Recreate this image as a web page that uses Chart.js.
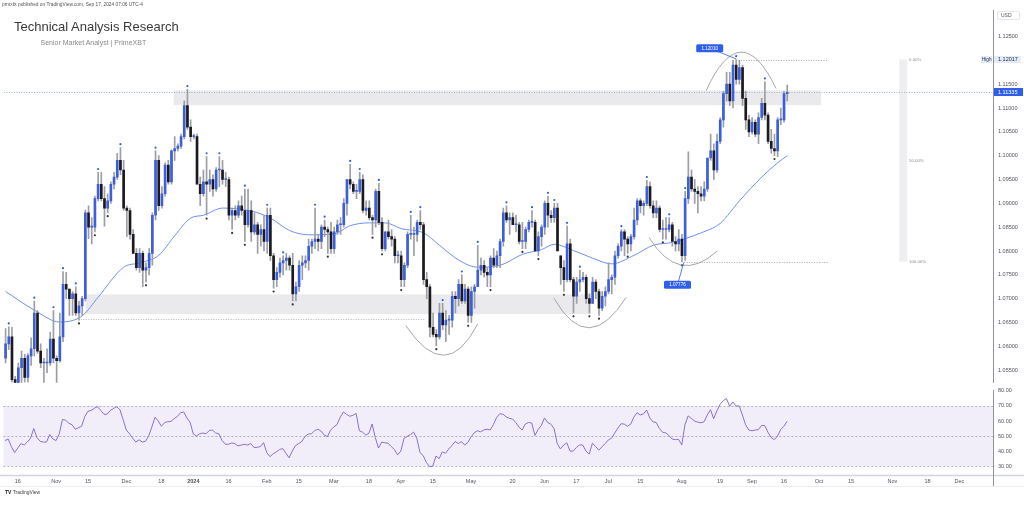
<!DOCTYPE html>
<html><head><meta charset="utf-8">
<script src="https://cdn.jsdelivr.net/npm/chart.js@4.4.1/dist/chart.umd.min.js"></script>
<style>
html,body{margin:0;padding:0;background:#fff;width:1024px;height:506px;overflow:hidden;font-family:"Liberation Sans",Arial,sans-serif}
#wrap{position:relative;width:1024px;height:506px}
canvas{position:absolute;left:0}
#c1{top:0}
#c2{top:380px}
.t{position:absolute;white-space:nowrap;line-height:1}
</style></head><body>
<div id="wrap">
<canvas id="c1" width="1024" height="391"></canvas>
<canvas id="c2" width="1024" height="126"></canvas>
<div class="t" style="left:2px;top:3px;font-size:4.8px;color:#555">prmxbt published on TradingView.com, Sep 17, 2024 07:06 UTC-4</div>
<div class="t" style="left:14px;top:19.7px;font-size:13px;color:#3a3a3a">Technical Analysis Research</div>
<div class="t" style="left:40.5px;top:39.4px;font-size:7px;color:#8a8a8a">Senior Market Analyst | PrimeXBT</div>
<div class="t" style="left:5px;top:490px;font-size:5px;color:#222"><b>TV</b> <span style="color:#444">TradingView</span></div>
</div>
<script>
// ---------- DATA ----------
const firstDate = '2023-10-10';
const slotCount = 310; // weekday slots shown on the time axis (incl. empty future)
const open  = [1.0575,1.0605,1.0620,1.0530,1.0515,1.0555,1.0575,1.0535,1.0580,1.0595,1.0670,1.0590,1.0565,1.0565,1.0565,1.0615,1.0575,1.0570,1.0620,1.0730,1.0720,1.0700,1.0710,1.0670,1.0685,1.0700,1.0880,1.0850,1.0850,1.0910,1.0940,1.0910,1.0890,1.0905,1.0940,1.0955,1.0990,1.0970,1.0890,1.0885,1.0835,1.0795,1.0765,1.0795,1.0760,1.0765,1.0795,1.0875,1.0990,1.0895,1.0920,1.0980,1.0945,1.1010,1.1015,1.1020,1.1040,1.1105,1.1060,1.1040,1.1040,1.0940,1.0920,1.0945,1.0940,1.0950,1.0930,1.0970,1.0970,1.0950,1.0950,1.0875,1.0885,1.0875,1.0895,1.0885,1.0855,1.0885,1.0840,1.0855,1.0835,1.0845,1.0820,1.0875,1.0790,1.0740,1.0755,1.0775,1.0780,1.0785,1.0770,1.0710,1.0725,1.0770,1.0775,1.0780,1.0810,1.0820,1.0825,1.0820,1.0850,1.0845,1.0840,1.0805,1.0840,1.0855,1.0855,1.0900,1.0950,1.0940,1.0925,1.0925,1.0950,1.0885,1.0890,1.0870,1.0865,1.0925,1.0860,1.0805,1.0840,1.0830,1.0825,1.0790,1.0790,1.0740,1.0770,1.0835,1.0835,1.0835,1.0860,1.0855,1.0740,1.0725,1.0640,1.0625,1.0620,1.0670,1.0645,1.0655,1.0655,1.0705,1.0700,1.0730,1.0695,1.0720,1.0665,1.0715,1.0725,1.0760,1.0770,1.0755,1.0750,1.0785,1.0770,1.0790,1.0820,1.0880,1.0865,1.0870,1.0855,1.0855,1.0820,1.0820,1.0845,1.0860,1.0860,1.0800,1.0830,1.0850,1.0900,1.0875,1.0870,1.0890,1.0790,1.0765,1.0740,1.0815,1.0740,1.0705,1.0735,1.0740,1.0745,1.0700,1.0690,1.0735,1.0715,1.0680,1.0705,1.0715,1.0740,1.0745,1.0790,1.0810,1.0840,1.0825,1.0815,1.0830,1.0865,1.0905,1.0895,1.0900,1.0935,1.0895,1.0880,1.0890,1.0845,1.0845,1.0845,1.0855,1.0820,1.0815,1.0825,1.0790,1.0910,1.0955,1.0930,1.0925,1.0920,1.0915,1.0930,1.0995,1.1010,1.0970,1.1030,1.1075,1.1130,1.1150,1.1115,1.1190,1.1160,1.1185,1.1120,1.1075,1.1050,1.1070,1.1045,1.1080,1.1110,1.1085,1.1030,1.1015,1.1010,1.1075,1.1075,1.1130];
const high  = [1.0637,1.0641,1.0640,1.0537,1.0565,1.0590,1.0583,1.0585,1.0618,1.0695,1.0675,1.0605,1.0575,1.0595,1.0630,1.0675,1.0580,1.0670,1.0757,1.0755,1.0720,1.0715,1.0725,1.0695,1.0705,1.0886,1.0895,1.0870,1.0915,1.0965,1.0965,1.0935,1.0920,1.0945,1.0965,1.1005,1.1017,1.0990,1.0895,1.0890,1.0845,1.0805,1.0805,1.0800,1.0775,1.0805,1.0880,1.1010,1.1000,1.0935,1.0985,1.0990,1.1012,1.1040,1.1025,1.1045,1.1115,1.1139,1.1075,1.1045,1.1045,1.0955,1.0970,1.0998,1.0970,1.0960,1.0975,1.0998,1.0990,1.0965,1.0955,1.0890,1.0895,1.0905,1.0915,1.0930,1.0930,1.0905,1.0880,1.0860,1.0855,1.0875,1.0890,1.0890,1.0795,1.0765,1.0785,1.0790,1.0795,1.0790,1.0795,1.0735,1.0780,1.0790,1.0790,1.0825,1.0825,1.0890,1.0835,1.0855,1.0865,1.0850,1.0860,1.0850,1.0865,1.0870,1.0910,1.0950,1.0982,1.0945,1.0940,1.0965,1.0960,1.0905,1.0905,1.0875,1.0930,1.0942,1.0870,1.0840,1.0865,1.0845,1.0830,1.0800,1.0800,1.0775,1.0840,1.0875,1.0850,1.0865,1.0885,1.0860,1.0755,1.0730,1.0670,1.0635,1.0690,1.0690,1.0675,1.0665,1.0715,1.0715,1.0740,1.0750,1.0730,1.0725,1.0725,1.0730,1.0812,1.0785,1.0780,1.0765,1.0790,1.0805,1.0800,1.0825,1.0890,1.0895,1.0880,1.0880,1.0875,1.0860,1.0860,1.0850,1.0865,1.0885,1.0865,1.0840,1.0855,1.0905,1.0915,1.0885,1.0900,1.0900,1.0790,1.0780,1.0852,1.0825,1.0745,1.0745,1.0760,1.0755,1.0750,1.0710,1.0745,1.0740,1.0720,1.0715,1.0725,1.0775,1.0750,1.0800,1.0815,1.0845,1.0845,1.0830,1.0835,1.0890,1.0910,1.0910,1.0905,1.0948,1.0945,1.0905,1.0905,1.0895,1.0865,1.0870,1.0870,1.0860,1.0830,1.0845,1.0835,1.0925,1.1008,1.0970,1.0950,1.0935,1.0935,1.0945,1.0995,1.1045,1.1025,1.1045,1.1080,1.1135,1.1175,1.1175,1.1200,1.12017,1.1200,1.1190,1.1135,1.1085,1.1080,1.1075,1.1090,1.1120,1.1155,1.1090,1.1055,1.1045,1.1080,1.1100,1.1135,1.1148];
const low   = [1.0565,1.0593,1.0525,1.0495,1.0505,1.0522,1.0525,1.0525,1.0560,1.0580,1.0585,1.0555,1.0520,1.0545,1.0560,1.0565,1.0517,1.0567,1.0610,1.0700,1.0665,1.0665,1.0665,1.0655,1.0665,1.0695,1.0826,1.0815,1.0840,1.0905,1.0905,1.0852,1.0880,1.0900,1.0930,1.0950,1.0960,1.0885,1.0830,1.0825,1.0795,1.0760,1.0755,1.0725,1.0735,1.0750,1.0770,1.0865,1.0885,1.0890,1.0915,1.0940,1.0940,1.0990,1.1010,1.1015,1.1035,1.1055,1.1030,1.1035,1.0940,1.0895,1.0915,1.0875,1.0925,1.0915,1.0925,1.0935,1.0940,1.0935,1.0865,1.0845,1.0865,1.0870,1.0875,1.0820,1.0850,1.0820,1.0835,1.0795,1.0810,1.0800,1.0795,1.0780,1.0722,1.0725,1.0745,1.0750,1.0760,1.0760,1.0695,1.0695,1.0715,1.0740,1.0765,1.0760,1.0795,1.0805,1.0800,1.0805,1.0830,1.0795,1.0795,1.0795,1.0835,1.0835,1.0850,1.0875,1.0930,1.0920,1.0910,1.0920,1.0880,1.0875,1.0865,1.0835,1.0850,1.0855,1.0800,1.0800,1.0825,1.0810,1.0775,1.0775,1.0725,1.0725,1.0765,1.0825,1.0790,1.0820,1.0845,1.0730,1.0700,1.0620,1.0620,1.0601,1.0615,1.0635,1.0610,1.0625,1.0640,1.0670,1.0685,1.0690,1.0690,1.0650,1.0650,1.0680,1.0725,1.0750,1.0745,1.0725,1.0725,1.0765,1.0765,1.0765,1.0810,1.0860,1.0835,1.0855,1.0840,1.0815,1.0805,1.0805,1.0840,1.0850,1.0800,1.0790,1.0810,1.0835,1.0850,1.0860,1.0860,1.0800,1.0730,1.0715,1.0735,1.0735,1.0670,1.0690,1.0715,1.0735,1.0690,1.0670,1.0690,1.0700,1.0665,1.0675,1.0685,1.0710,1.0710,1.0730,1.0785,1.0800,1.0790,1.0795,1.0800,1.0825,1.0855,1.0880,1.0875,1.0895,1.0890,1.0870,1.0870,1.0840,1.0825,1.0825,1.0840,1.0810,1.0800,1.0800,1.0777,1.0780,1.0900,1.0925,1.0900,1.0880,1.0905,1.0905,1.0925,1.0990,1.0950,1.0965,1.1025,1.1060,1.1115,1.1105,1.1100,1.1150,1.1150,1.1105,1.1055,1.1040,1.1045,1.1040,1.1025,1.1075,1.1075,1.1025,1.1005,1.1000,1.0998,1.1065,1.1070,1.1115];
const close = [1.0605,1.0620,1.0530,1.0510,1.0555,1.0575,1.0535,1.0580,1.0595,1.0670,1.0590,1.0565,1.0565,1.0565,1.0615,1.0575,1.0570,1.0620,1.0730,1.0720,1.0700,1.0710,1.0670,1.0685,1.0700,1.0880,1.0850,1.0850,1.0910,1.0940,1.0910,1.0890,1.0905,1.0940,1.0955,1.0990,1.0970,1.0890,1.0885,1.0835,1.0795,1.0765,1.0795,1.0760,1.0765,1.0795,1.0875,1.0990,1.0895,1.0920,1.0980,1.0945,1.1010,1.1015,1.1020,1.1040,1.1105,1.1060,1.1040,1.1040,1.0940,1.0920,1.0945,1.0940,1.0950,1.0930,1.0970,1.0970,1.0950,1.0950,1.0875,1.0885,1.0875,1.0895,1.0885,1.0855,1.0885,1.0840,1.0855,1.0835,1.0845,1.0820,1.0875,1.0790,1.0740,1.0755,1.0775,1.0780,1.0785,1.0770,1.0710,1.0725,1.0770,1.0775,1.0780,1.0810,1.0820,1.0825,1.0820,1.0850,1.0845,1.0840,1.0805,1.0840,1.0855,1.0855,1.0900,1.0950,1.0940,1.0925,1.0925,1.0950,1.0885,1.0890,1.0870,1.0865,1.0925,1.0860,1.0805,1.0840,1.0830,1.0825,1.0790,1.0790,1.0740,1.0770,1.0835,1.0835,1.0835,1.0860,1.0855,1.0740,1.0725,1.0640,1.0625,1.0620,1.0670,1.0645,1.0655,1.0655,1.0705,1.0700,1.0730,1.0695,1.0720,1.0665,1.0715,1.0725,1.0760,1.0770,1.0755,1.0750,1.0785,1.0770,1.0790,1.0820,1.0880,1.0865,1.0870,1.0855,1.0855,1.0820,1.0820,1.0845,1.0860,1.0860,1.0800,1.0830,1.0850,1.0900,1.0875,1.0870,1.0890,1.0800,1.0765,1.0740,1.0815,1.0740,1.0705,1.0735,1.0740,1.0745,1.0700,1.0690,1.0735,1.0715,1.0680,1.0705,1.0715,1.0740,1.0745,1.0790,1.0810,1.0840,1.0825,1.0815,1.0830,1.0865,1.0905,1.0895,1.0900,1.0935,1.0895,1.0880,1.0890,1.0845,1.0845,1.0845,1.0855,1.0820,1.0815,1.0825,1.0790,1.0910,1.0955,1.0930,1.0925,1.0920,1.0915,1.0930,1.0995,1.1010,1.0970,1.1030,1.1075,1.1130,1.1150,1.1115,1.1190,1.1160,1.1185,1.1120,1.1075,1.1050,1.1070,1.1045,1.1080,1.1110,1.1085,1.1030,1.1015,1.1010,1.1075,1.1075,1.1130,1.1133];
// 50-period moving average, read at sample bars: [bar index, value]
const maPoints = [[0,1.0715],[9,1.0676],[17,1.0651],[24,1.0664],[29,1.0703],[37,1.0766],[42,1.0775],[48,1.0791],[53,1.0832],[58,1.0869],[62,1.0875],[68,1.0890],[77,1.0884],[83,1.0869],[89,1.0843],[95,1.0834],[103,1.0836],[108,1.0853],[114,1.0859],[119,1.0859],[124,1.0847],[131,1.0838],[136,1.0812],[142,1.0781],[148,1.0766],[155,1.0770],[162,1.0793],[168,1.0803],[172,1.0814],[178,1.0801],[184,1.0785],[190,1.0773],[197,1.0791],[203,1.0812],[209,1.0818],[213,1.0826],[218,1.0838],[224,1.0858],[230,1.0905],[237,1.0955],[242,1.0985],[245,1.1000]];
// RSI(14)
const rsi = [47,48,43,39,42,45,44,46,48.5,55,49,46.5,46,46,51,48,47,51.5,61,60.5,58.5,57.5,54.5,55.5,56.5,63,66.5,67,68.5,69.5,67,64.5,64.5,67,68.3,69.5,67.5,61,54,51.5,48.5,46,47.5,46,46.5,50,56,62.5,60,56.5,59,59.5,59.7,61.6,63,65.5,66,62,59,51.3,50,51.5,52,51.5,53.7,54,52,51.5,47,44.6,44.5,45.4,45,43.4,44,44.5,44,45,42.4,42.5,43,45.6,39,36.3,38.2,39.5,41,41.7,38.6,35.5,40,43.7,45,46.4,49.8,51.3,51.5,53.6,54.5,53.3,50.6,49.6,54,56,57.6,62.4,66,64.4,63.1,63.8,65,53.5,52.6,50.6,51.8,58,49,42,46,45.5,45.2,43,41,37.5,40,48.5,49.8,51,52.6,48.5,39,37,32.5,29.6,30,36.7,35,39.5,38.5,41.4,43.6,46.4,45,46.3,44,45.8,49.5,52.2,53.5,52.8,54,54.5,54,57.6,62.4,64.8,64.5,62.7,61.8,61.3,59,56,54,58,59,58.7,50.4,54.3,57,62,59,57.8,55,45,41.4,44,45.5,40,40,42.4,44.1,44,40,38,45.2,43.1,40.6,42.8,45,47.4,48.5,52,55.3,58.2,57.9,56.5,57.8,62.6,65.5,64,64.7,67.3,62,59.4,59,55,52.5,52.1,50.3,48,47.6,47.8,44,57.5,63.4,61.7,60,59.2,58.8,59.5,64,67.5,61.5,66.7,71,73.5,75,69.8,72.7,70,70,64,57.5,54,53.5,54,54.2,57,57,52.5,49,47.6,50,54.3,56.5,59.8];
const fractalHighIdx = [1,9,15,18,22,29,36,47,57,63,67,75,82,87,97,100,108,111,117,127,130,137,143,148,157,165,170,172,176,180,193,201,208,213,229,238];
const fractalLowIdx  = [23,28,32,44,63,71,75,84,90,101,115,118,124,135,145,152,162,167,175,178,183,186,195,206,212,241];
const priceTicks = [1.055,1.06,1.065,1.07,1.075,1.08,1.085,1.09,1.095,1.10,1.105,1.11,1.115,1.12,1.125];
const rsiTicks = [30,40,50,60,70,80];
const tickDates = ['2023-10-16','2023-11-01','2023-11-15','2023-12-01','2023-12-18','2024-01-01','2024-01-16','2024-02-01','2024-02-15','2024-03-01','2024-03-18','2024-04-01','2024-04-15','2024-05-01','2024-05-20','2024-06-03','2024-06-17','2024-07-01','2024-07-15','2024-08-01','2024-08-19','2024-09-02','2024-09-16','2024-10-01','2024-10-15','2024-11-01','2024-11-18','2024-12-02'];
const tickTexts = ['16','Nov','15','Dec','18','2024','16','Feb','15','Mar','18','Apr','15','May','20','Jun','17','Jul','15','Aug','19','Sep','16','Oct','15','Nov','18','Dec'];
// drawing annotations in data space (bar index, price)
const zones = [{from:52.7,to:255.6,top:1.11368,bottom:1.11060},{from:25,to:183.5,top:1.07089,bottom:1.06677}];
const arcs = [
  [[125.5,1.06430],[137.4,1.05813],[148,1.06471]],
  [[171.9,1.07006],[182.9,1.06389],[194.5,1.07027]],
  [[201.7,1.08282],[211.7,1.07706],[223,1.07994]],
  [[219.6,1.11368],[230.5,1.12171],[241.5,1.11409]]
];
const lastPrice = 1.11335, highPrice = 1.12017, lowPrice = 1.07776;
const supportLine = {from:22,to:131.7,price:1.06574};
const fib = {fromHigh:230.5,fromLow:212.7,to:258,band:[280.1,282.6],labelAt:283.2,levels:[[1.12017,'0.00%'],[1.098965,'50.00%'],[1.07776,'100.00%']]};
const calloutHigh = {text:'1.12010',i:220.7,p:1.12253,ai:229,ap:1.1203};
const calloutLow  = {text:'1.07776',i:210.6,p:1.07294,ai:212.6,ap:1.0776};

// ---------- CALENDAR ----------
const dates = [];
(function(){ let d = new Date(firstDate+'T00:00:00Z'); while(dates.length<slotCount){ const w=d.getUTCDay(); if(w!==0&&w!==6) dates.push(d.toISOString().slice(0,10)); d.setUTCDate(d.getUTCDate()+1);} })();

const FONT = '"Liberation Sans", Arial, sans-serif';
Chart.defaults.font.family = FONT;
const UP='#3b5ddf', DOWN='#1b1b1f', WICK='#9c9ea6', AXIS='#8f9299', TXT='#50535e';

const maData = Array(open.length).fill(null);
maPoints.forEach(([i,v])=>{maData[i]=v;});
const fHigh = Array(open.length).fill(null); fractalHighIdx.forEach(i=>{fHigh[i]=high[i]+0.0007;});
const fLow = Array(open.length).fill(null); fractalLowIdx.forEach(i=>{fLow[i]=low[i]-0.0007;});

function rr(ctx,x,y,w,h,r){ctx.beginPath();ctx.moveTo(x+r,y);ctx.lineTo(x+w-r,y);ctx.quadraticCurveTo(x+w,y,x+w,y+r);ctx.lineTo(x+w,y+h-r);ctx.quadraticCurveTo(x+w,y+h,x+w-r,y+h);ctx.lineTo(x+r,y+h);ctx.quadraticCurveTo(x,y+h,x,y+h-r);ctx.lineTo(x,y+r);ctx.quadraticCurveTo(x,y,x+r,y);ctx.closePath();}

const overlay = {
  id:'overlay',
  beforeDatasetsDraw(chart){
    const {ctx, scales:{x,y}} = chart;
    ctx.save();
    ctx.fillStyle='rgba(150,152,162,0.2)';
    zones.forEach(z=>{const x1=x.getPixelForValue(z.from),x2=x.getPixelForValue(z.to),y1=y.getPixelForValue(z.top),y2=y.getPixelForValue(z.bottom);ctx.fillRect(x1,y1,x2-x1,y2-y1);});
    // fib band
    const ya=y.getPixelForValue(fib.levels[0][0]), yb=y.getPixelForValue(fib.levels[2][0]);
    const bx1=x.getPixelForValue(fib.band[0]), bx2=x.getPixelForValue(fib.band[1]);
    ctx.fillStyle='rgba(150,152,162,0.16)';ctx.fillRect(bx1,ya,bx2-bx1,yb-ya);
    ctx.setLineDash([1,1.5]);ctx.lineWidth=1;
    // last price line
    const ly=Math.round(y.getPixelForValue(lastPrice))+0.5;
    ctx.strokeStyle='#9fb2c8';ctx.beginPath();ctx.moveTo(chart.chartArea.left,ly);ctx.lineTo(chart.chartArea.right,ly);ctx.stroke();
    // support dotted line
    const sy=Math.round(y.getPixelForValue(supportLine.price))+0.5;
    ctx.strokeStyle='#b4b4b8';ctx.beginPath();ctx.moveTo(x.getPixelForValue(supportLine.from),sy);ctx.lineTo(x.getPixelForValue(supportLine.to),sy);ctx.stroke();
    // fib lines
    ctx.strokeStyle='#a8a8ad';
    const hy=Math.round(ya)+0.5, lyy=Math.round(yb)+0.5;
    ctx.beginPath();ctx.moveTo(x.getPixelForValue(fib.fromHigh),hy);ctx.lineTo(x.getPixelForValue(fib.to),hy);ctx.stroke();
    ctx.beginPath();ctx.moveTo(x.getPixelForValue(fib.fromLow),lyy);ctx.lineTo(x.getPixelForValue(fib.to),lyy);ctx.stroke();
    ctx.setLineDash([]);
    ctx.restore();
  },
  afterDatasetsDraw(chart){
    const {ctx, scales:{x,y}} = chart;
    ctx.save();
    // arcs
    ctx.strokeStyle='#8e9097';ctx.lineWidth=0.8;
    arcs.forEach(a=>{
      const P=a.map(([i,p])=>[x.getPixelForValue(i),y.getPixelForValue(p)]);
      const cx=2*P[1][0]-(P[0][0]+P[2][0])/2, cy=2*P[1][1]-(P[0][1]+P[2][1])/2;
      ctx.beginPath();ctx.moveTo(P[0][0],P[0][1]);ctx.quadraticCurveTo(cx,cy,P[2][0],P[2][1]);ctx.stroke();
    });
    // callouts
    [calloutHigh,calloutLow].forEach(c=>{
      const cx=x.getPixelForValue(c.i), cy=y.getPixelForValue(c.p);
      const ax=x.getPixelForValue(c.ai), ay=y.getPixelForValue(c.ap);
      ctx.strokeStyle='#2f5fe8';ctx.lineWidth=0.8;ctx.beginPath();ctx.moveTo(cx,cy);ctx.lineTo(ax,ay);ctx.stroke();
      ctx.fillStyle='#2f5fe8';rr(ctx,cx-13.5,cy-4,27,8,1.5);ctx.fill();
      ctx.fillStyle='#fff';ctx.font='4.6px '+FONT;ctx.textAlign='center';ctx.textBaseline='middle';ctx.fillText(c.text,cx,cy+0.3);
    });
    // fib labels
    ctx.fillStyle='#8a8c93';ctx.font='4.3px '+FONT;ctx.textAlign='left';ctx.textBaseline='middle';
    fib.levels.forEach(([p,t])=>{ctx.fillText(t,x.getPixelForValue(fib.labelAt),y.getPixelForValue(p));});
    ctx.restore();
  },
  afterDraw(chart){
    const {ctx, scales:{y}, chartArea} = chart;
    ctx.save();
    const R=chartArea.right;
    // USD
    ctx.strokeStyle='#e0e1e5';ctx.lineWidth=0.8;rr(ctx,R+4.5,11.5,22,8,1.5);ctx.stroke();
    ctx.fillStyle=TXT;ctx.font='5px '+FONT;ctx.textAlign='left';ctx.textBaseline='middle';ctx.fillText('USD',R+8,15.8);
    // High label
    const hy=y.getPixelForValue(highPrice);
    ctx.fillStyle='#e3eafc';ctx.fillRect(R-12,hy-3.5,11,7);ctx.fillRect(R+1,hy-3.5,27,7);
    ctx.fillStyle='#2b2d33';ctx.font='4.6px '+FONT;ctx.textAlign='left';ctx.fillText('High',R-11,hy+0.3);
    ctx.font='5.5px '+FONT;ctx.fillText(highPrice.toFixed(5),R+5,hy+0.3);
    // last price label
    const ly=y.getPixelForValue(lastPrice);
    ctx.fillStyle='#2f5fe8';ctx.fillRect(R+1,ly-4,29,8);
    ctx.fillStyle='#fff';ctx.fillText(lastPrice.toFixed(5),R+5,ly+0.3);
    ctx.restore();
  }
};

new Chart(document.getElementById('c1'),{
  type:'bar',
  data:{labels:dates,datasets:[
    {type:'line',data:maData,borderColor:'#6f8ff2',borderWidth:1,pointRadius:0,spanGaps:true,cubicInterpolationMode:'monotone',order:3},
    {type:'bar',data:low.map((l,i)=>[l,high[i]]),backgroundColor:WICK,barThickness:1,grouped:false,order:2},
    {type:'bar',data:open.map((o,i)=>[o,close[i]]),backgroundColor:c=>close[c.dataIndex]>=open[c.dataIndex]?UP:DOWN,barThickness:2,minBarLength:1,grouped:false,order:1},
    {type:'line',data:fHigh,showLine:false,pointRadius:1.1,pointBackgroundColor:'#2f5fe8',pointBorderWidth:0,order:0},
    {type:'line',data:fLow,showLine:false,pointRadius:1.1,pointBackgroundColor:'#333',pointBorderWidth:0,order:0}
  ]},
  options:{
    responsive:false,animation:false,devicePixelRatio:1,
    layout:{padding:{left:3.4,top:10,right:0,bottom:1}},
    plugins:{legend:{display:false},tooltip:{enabled:false}},
    scales:{
      x:{display:false,offset:true,grid:{display:false}},
      y:{position:'right',min:1.05237,max:1.130556,
         afterFit:s=>{s.width=31;},
         afterBuildTicks:s=>{s.ticks=priceTicks.map(v=>({value:v}));},
         ticks:{callback:v=>Number(v).toFixed(5),font:{size:5.5},color:TXT,padding:5},
         grid:{display:false,drawTicks:false},border:{display:true,color:AXIS,width:1}}
    }
  },
  plugins:[overlay]
});

const rsiPlugin = {
  id:'rsiBand',
  beforeDatasetsDraw(chart){
    const {ctx, scales:{y}, chartArea:a} = chart;
    ctx.save();
    const y70=y.getPixelForValue(70), y30=y.getPixelForValue(30), y50=y.getPixelForValue(50);
    ctx.fillStyle='rgba(126,87,194,0.10)';ctx.fillRect(a.left,y70,a.right-a.left,y30-y70);
    ctx.strokeStyle='rgba(120,123,134,0.55)';ctx.lineWidth=1;ctx.setLineDash([2,2]);
    [y70,y50,y30].forEach(v=>{const yy=Math.round(v)+0.5;ctx.beginPath();ctx.moveTo(a.left,yy);ctx.lineTo(a.right,yy);ctx.stroke();});
    ctx.restore();
  },
  afterDraw(chart){
    const {ctx, chartArea:a} = chart;
    ctx.save();
    ctx.strokeStyle='#d3d5da';ctx.lineWidth=1.5;ctx.beginPath();ctx.moveTo(0,a.bottom+0.5);ctx.lineTo(1024,a.bottom+0.5);ctx.stroke();
    ctx.strokeStyle=AXIS;ctx.lineWidth=1;ctx.beginPath();ctx.moveTo(a.right+0.5,a.top);ctx.lineTo(a.right+0.5,a.bottom+11);ctx.stroke();
    ctx.strokeStyle='#eceef1';ctx.beginPath();ctx.moveTo(0,a.bottom+11.5);ctx.lineTo(1024,a.bottom+11.5);ctx.stroke();
    ctx.restore();
  }
};

new Chart(document.getElementById('c2'),{
  type:'line',
  data:{labels:dates,datasets:[{data:rsi,borderColor:'#8a6fcf',borderWidth:1,pointRadius:0,tension:0}]},
  options:{
    responsive:false,animation:false,devicePixelRatio:1,
    layout:{padding:{left:3.4,top:10,right:0,bottom:0}},
    plugins:{legend:{display:false},tooltip:{enabled:false}},
    scales:{
      x:{offset:true,afterFit:s=>{s.height=31;},
         afterBuildTicks:s=>{s.ticks=tickDates.map(d=>({value:dates.indexOf(d)}));},
         ticks:{autoSkip:false,maxRotation:0,padding:3,color:TXT,callback:(v,i)=>tickTexts[i],
                font:c=>({size:5.5,weight:(tickTexts[c.index]==='2024')?'bold':'normal'})},
         grid:{display:false,drawTicks:false},border:{display:false}},
      y:{position:'right',min:24.1,max:80.6,
         afterFit:s=>{s.width=31;},
         afterBuildTicks:s=>{s.ticks=rsiTicks.map(v=>({value:v}));},
         ticks:{callback:v=>Number(v).toFixed(2),font:{size:5.5},color:TXT,padding:5},
         grid:{display:false,drawTicks:false},border:{display:false}}
    }
  },
  plugins:[rsiPlugin]
});
</script>
</body></html>
